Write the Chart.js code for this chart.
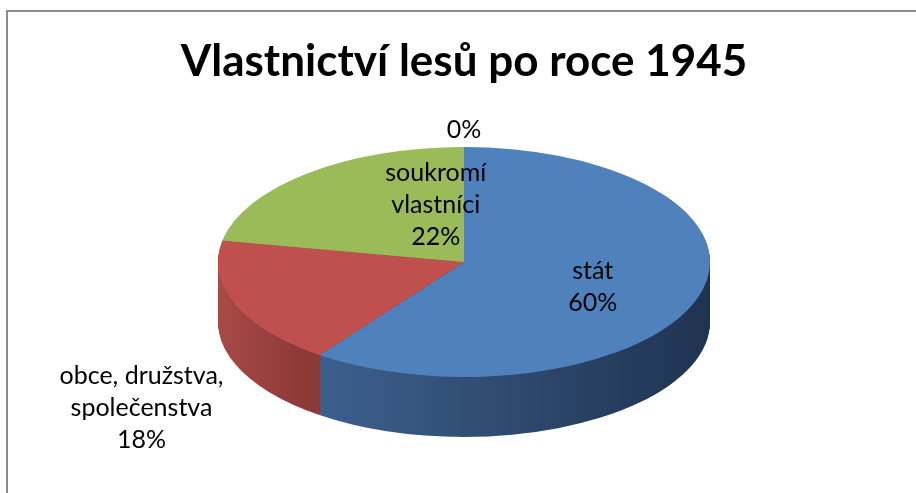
<!DOCTYPE html>
<html>
<head>
<meta charset="utf-8">
<script src="https://cdn.jsdelivr.net/npm/chart.js@4.4.1/dist/chart.umd.min.js"></script>
<style>
  html, body { margin: 0; padding: 0; background: #fff; }
  #wrap { position: relative; width: 916px; height: 493px; }
</style>
</head>
<body>
<div id="wrap"><canvas id="pieChart" width="916" height="493"></canvas></div>
<script>
// Vlastnictví lesů – 3D pie look on top of a plain Chart.js pie

const categories = ['stát', 'obce, družstva,\nspolečenstva', 'soukromí\nvlastníci', ''];
const shares = [60, 18, 22, 0];
const topColors = ['#4F81BD', '#C0504D', '#9BBB59', '#8064A2'];

// side wall gradients (left -> right across the pie)
const sideColors = [
  [[0, '#446B9D'], [1, '#1F3350']],
  [[0, '#A84A46'], [0.17, '#8E3A37'], [1, '#6E2B29']],
  [[0, '#7F9A48'], [1, '#5E7434']],
  [[0, '#6A5288'], [1, '#4A3A60']]
];

// screen size of the tilted pie
const pieRx = 246;
const pieRy = 115;
const pieDepth = 60;

// where each label sits: fraction of radius along the mid angle + vertical nudge
const labelPlace = [
  { f: 0.55, dy: 5 },
  { f: 1.41, dy: 86 },
  { f: 0.18, dy: -41 },
  { f: 1.15, dy: 0 }
];

function tiltTransform(ctx, arc) {
  const sx = pieRx / arc.outerRadius;
  const sy = pieRy / arc.outerRadius;
  ctx.translate(arc.x, arc.y);
  ctx.scale(sx, sy);
  ctx.translate(-arc.x, -arc.y);
  return { sx, sy };
}

const framePlugin = {
  id: 'frame',
  beforeDraw(chart) {
    const ctx = chart.ctx;
    ctx.save();
    ctx.strokeStyle = '#8c8c8c';
    ctx.lineWidth = 2;
    ctx.beginPath();
    ctx.moveTo(7, 493);
    ctx.lineTo(7, 11);
    ctx.lineTo(916, 11);
    ctx.stroke();
    ctx.restore();
  }
};

const tiltPlugin = {
  id: 'tilt3d',
  beforeDatasetsDraw(chart) {
    const meta = chart.getDatasetMeta(0);
    const ctx = chart.ctx;
    const first = meta.data[0];
    ctx.save();
    const { sy } = tiltTransform(ctx, first);

    const grads = sideColors.map(stops => {
      const g = ctx.createLinearGradient(first.x - first.outerRadius, 0, first.x + first.outerRadius, 0);
      stops.forEach(s => g.addColorStop(s[0], s[1]));
      return g;
    });

    for (let d = pieDepth; d >= 1; d--) {
      const off = d / sy;
      meta.data.forEach((arc, i) => {
        if (arc.endAngle - arc.startAngle <= 0) return;
        ctx.beginPath();
        ctx.moveTo(arc.x, arc.y + off);
        ctx.arc(arc.x, arc.y + off, arc.outerRadius, arc.startAngle, arc.endAngle);
        ctx.closePath();
        ctx.fillStyle = grads[i];
        ctx.fill();
      });
    }
    // keep transform for the top faces drawn by Chart.js
  },
  afterDatasetsDraw(chart) {
    const ctx = chart.ctx;
    ctx.restore();

    const meta = chart.getDatasetMeta(0);
    const total = shares.reduce((a, b) => a + b, 0);
    ctx.save();
    ctx.font = '25px Lato, "Open Sans", sans-serif';
    ctx.fillStyle = '#000';
    ctx.textAlign = 'center';
    ctx.textBaseline = 'middle';
    const lineH = 32;
    meta.data.forEach((arc, i) => {
      const mid = (arc.startAngle + arc.endAngle) / 2;
      const p = labelPlace[i];
      const x = arc.x + p.f * pieRx * Math.cos(mid);
      const y = arc.y + p.f * pieRy * Math.sin(mid) + p.dy;
      const lines = categories[i] ? categories[i].split('\n') : [];
      lines.push(Math.round(shares[i] / total * 100) + '%');
      const top = y - (lines.length - 1) * lineH / 2;
      lines.forEach((t, k) => ctx.fillText(t, x, top + k * lineH));
    });
    ctx.restore();
  }
};

new Chart(document.getElementById('pieChart').getContext('2d'), {
  type: 'pie',
  data: {
    labels: categories,
    datasets: [{
      data: shares,
      backgroundColor: topColors,
      borderWidth: 0,
      clip: false
    }]
  },
  options: {
    responsive: false,
    animation: false,
    layout: { padding: { left: 12, right: 0, top: 0, bottom: 131 } },
    plugins: {
      legend: { display: false },
      tooltip: { enabled: false },
      title: {
        display: true,
        text: 'Vlastnictví lesů po roce 1945',
        color: '#000',
        font: { family: 'Lato, "Open Sans", sans-serif', size: 44, weight: 'bold', lineHeight: 1.2 },
        padding: { top: 35, bottom: 74.2 }
      }
    }
  },
  plugins: [framePlugin, tiltPlugin]
});
</script>
</body>
</html>
